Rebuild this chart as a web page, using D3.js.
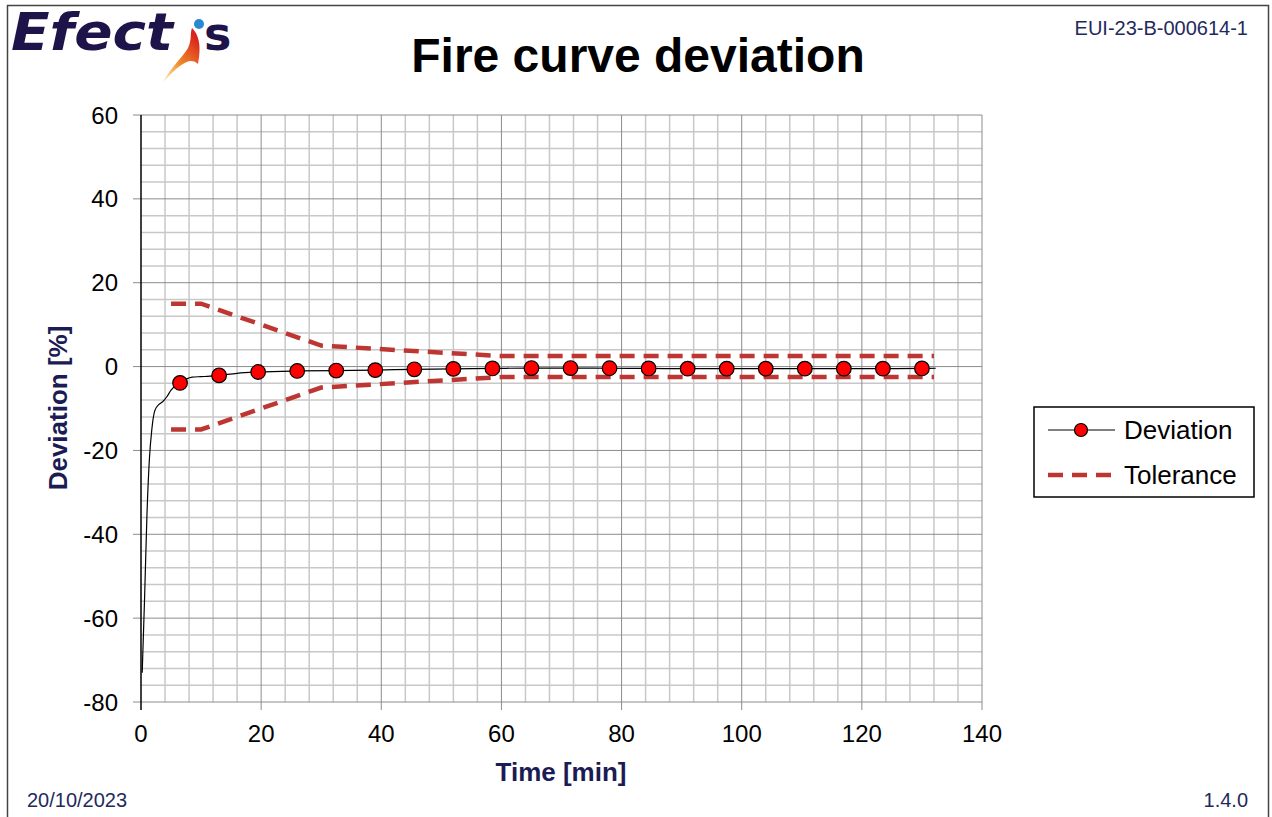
<!DOCTYPE html>
<html lang="en">
<head>
<meta charset="UTF-8">
<title>Fire curve deviation</title>
<style>
  body { margin: 0; background: #fff; }
  svg { display: block; font-family: "Liberation Sans", Arial, sans-serif; }
  .grid-minor line { stroke: #c8c8c8; stroke-width: 1.5px; }
  .grid-major line { stroke: #8c8c8c; stroke-width: 1px; }
  .tick-lbl { font-size: 24px; fill: #000; }
  .axis-title { font-size: 26px; font-weight: bold; fill: #1c1c54; }
  .meta { font-size: 20px; fill: #1f2a5c; }
</style>
</head>
<body>
<svg width="1272" height="817"></svg>
<script src="https://cdn.jsdelivr.net/npm/d3@7"></script>
<script>
// deviation curve [time min, deviation %]
var devTime = [0.2, 0.6, 1.0, 1.4, 1.8, 2.3, 3.0, 3.6, 4.3, 5.0, 5.8, 6.5, 7.5, 8.5, 10, 11.5, 13, 16, 19.5, 26, 32.5, 39, 45.5, 52, 58.5, 65, 71.5, 78, 84.5, 91, 97.5, 104, 110.5, 117, 123.5, 130, 132.3];
var devValue = [-73, -55, -35, -22, -15, -10.5, -9, -8.4, -7.2, -5.6, -4.5, -3.9, -3.0, -2.5, -2.4, -2.3, -2.1, -1.6, -1.3, -1.05, -0.95, -0.85, -0.65, -0.55, -0.45, -0.35, -0.35, -0.4, -0.45, -0.5, -0.5, -0.5, -0.5, -0.5, -0.5, -0.45, -0.4];
// marker times (every 6.5 min)
var markerTime = [6.5, 13, 19.5, 26, 32.5, 39, 45.5, 52, 58.5, 65, 71.5, 78, 84.5, 91, 97.5, 104, 110.5, 117, 123.5, 130];
// tolerance band breakpoints
var tolTime = [5, 10, 30, 60, 132];
var tolUpper = [15, 15, 5, 2.5, 2.5];
var tolLower = [-15, -15, -5, -2.5, -2.5];

var xTicks = [0, 20, 40, 60, 80, 100, 120, 140];
var yTicks = [-80, -60, -40, -20, 0, 20, 40, 60];

var svg = d3.select("svg");

// outer frame
svg.append("rect").attr("x", 7.5).attr("y", 5.5).attr("width", 1261).attr("height", 820)
  .attr("fill", "none").attr("stroke", "#444").attr("stroke-width", 1.5);

var x = d3.scaleLinear().domain([0, 140]).range([141, 982]);
var y = d3.scaleLinear().domain([-80, 60]).range([702, 115]);

// minor grid every 4
var g = svg.append("g");
g.append("g").attr("class", "grid-minor").selectAll("line")
  .data(d3.range(0, 141, 4).filter(function (d) { return d % 20 !== 0; }))
  .enter().append("line")
  .attr("x1", function (d) { return x(d); }).attr("x2", function (d) { return x(d); })
  .attr("y1", y(60)).attr("y2", y(-80));
g.append("g").attr("class", "grid-minor").selectAll("line")
  .data(d3.range(-80, 61, 4).filter(function (d) { return d % 20 !== 0; }))
  .enter().append("line")
  .attr("y1", function (d) { return y(d); }).attr("y2", function (d) { return y(d); })
  .attr("x1", x(0)).attr("x2", x(140));
// major grid
g.append("g").attr("class", "grid-major").selectAll("line")
  .data(xTicks.slice(1))
  .enter().append("line")
  .attr("x1", function (d) { return x(d); }).attr("x2", function (d) { return x(d); })
  .attr("y1", y(60)).attr("y2", y(-80) + 8);
g.append("g").attr("class", "grid-major").selectAll("line")
  .data(yTicks)
  .enter().append("line")
  .attr("y1", function (d) { return y(d); }).attr("y2", function (d) { return y(d); })
  .attr("x1", x(0) - 8).attr("x2", x(140));
// y axis line
g.append("line").attr("x1", x(0)).attr("x2", x(0)).attr("y1", y(60)).attr("y2", y(-80) + 8)
  .attr("stroke", "#000").attr("stroke-width", 1.5);

// tick labels
svg.append("g").selectAll("text").data(yTicks).enter().append("text")
  .attr("class", "tick-lbl").attr("x", 118).attr("y", function (d) { return y(d); })
  .attr("dy", "0.36em").attr("text-anchor", "end").text(function (d) { return d; });
svg.append("g").selectAll("text").data(xTicks).enter().append("text")
  .attr("class", "tick-lbl").attr("x", function (d) { return x(d); }).attr("y", 742)
  .attr("text-anchor", "middle").text(function (d) { return d; });

// axis titles
svg.append("text").attr("class", "axis-title").attr("x", 561).attr("y", 781)
  .attr("text-anchor", "middle").text("Time [min]");
svg.append("text").attr("class", "axis-title")
  .attr("transform", "translate(67,408) rotate(-90)")
  .attr("text-anchor", "middle").text("Deviation [%]");

// tolerance
var tolLine = d3.line().x(function (d) { return x(d[0]); }).y(function (d) { return y(d[1]); });
[tolUpper, tolLower].forEach(function (vals) {
  svg.append("path")
    .datum(tolTime.map(function (t, i) { return [t, vals[i]]; }))
    .attr("d", tolLine)
    .attr("fill", "none").attr("stroke", "#be3631").attr("stroke-width", 4.5)
    .attr("stroke-dasharray", "15,9");
});

// deviation line
var devLine = d3.line().curve(d3.curveMonotoneX)
  .x(function (d) { return x(d[0]); }).y(function (d) { return y(d[1]); });
svg.append("path")
  .datum(devTime.map(function (t, i) { return [t, devValue[i]]; }))
  .attr("d", devLine)
  .attr("fill", "none").attr("stroke", "#000").attr("stroke-width", 1.2);

// markers
var interp = d3.scaleLinear().domain(devTime).range(devValue);
svg.append("g").selectAll("circle").data(markerTime).enter().append("circle")
  .attr("cx", function (d) { return x(d); })
  .attr("cy", function (d) { return y(interp(d)); })
  .attr("r", 7.3).attr("fill", "#ff0000").attr("stroke", "#000").attr("stroke-width", 1.2);

// title
svg.append("text").attr("x", 638).attr("y", 72).attr("text-anchor", "middle")
  .attr("font-size", 48).attr("font-weight", "bold").attr("fill", "#000")
  .text("Fire curve deviation");

// meta texts
svg.append("text").attr("class", "meta").attr("x", 1248).attr("y", 35).attr("text-anchor", "end").text("EUI-23-B-000614-1");
svg.append("text").attr("class", "meta").attr("x", 27).attr("y", 807).text("20/10/2023");
svg.append("text").attr("class", "meta").attr("x", 1248).attr("y", 807).attr("text-anchor", "end").text("1.4.0");

// legend
var lg = svg.append("g").attr("transform", "translate(1034,407)");
lg.append("rect").attr("width", 220).attr("height", 90).attr("fill", "#fff")
  .attr("stroke", "#000").attr("stroke-width", 1.5);
lg.append("line").attr("x1", 14).attr("x2", 81).attr("y1", 23).attr("y2", 23)
  .attr("stroke", "#000").attr("stroke-width", 1);
lg.append("circle").attr("cx", 47).attr("cy", 23).attr("r", 6.5)
  .attr("fill", "#ff0000").attr("stroke", "#000").attr("stroke-width", 1.2);
lg.append("line").attr("x1", 14).attr("x2", 86).attr("y1", 68).attr("y2", 68)
  .attr("stroke", "#be3631").attr("stroke-width", 4.5).attr("stroke-dasharray", "15,9");
lg.append("text").attr("x", 90).attr("y", 23).attr("dy", "0.36em").attr("font-size", 26).text("Deviation");
lg.append("text").attr("x", 90).attr("y", 68).attr("dy", "0.36em").attr("font-size", 26).text("Tolerance");

// logo
var logo = svg.append("g");
var grad = svg.append("defs").append("linearGradient").attr("id", "flame")
  .attr("x1", "0").attr("y1", "1").attr("x2", "0.6").attr("y2", "0");
grad.append("stop").attr("offset", "0").attr("stop-color", "#f7b733").attr("stop-opacity", 0.3);
grad.append("stop").attr("offset", "0.45").attr("stop-color", "#f08a2a");
grad.append("stop").attr("offset", "1").attr("stop-color", "#d9251c");
logo.append("text").attr("x", 11).attr("y", 50).attr("font-size", 52).attr("font-weight", "bold")
  .attr("font-family", "DejaVu Sans").attr("font-style", "italic").attr("fill", "#1e1449")
  .attr("textLength", 162).attr("lengthAdjust", "spacingAndGlyphs").text("Efect");
logo.append("text").attr("x", 204).attr("y", 50).attr("font-size", 46).attr("font-weight", "bold")
  .attr("font-family", "DejaVu Sans").attr("fill", "#1e1449").text("s");
logo.append("path")
  .attr("d", "M163,82 C172,66 182,58 188,48 C192,40 190,32 192,28 C198,34 202,44 198,64 C190,56 180,64 163,82 Z")
  .attr("fill", "url(#flame)");
logo.append("circle").attr("cx", 199).attr("cy", 24).attr("r", 5).attr("fill", "#2a8ad0");
</script>
</body>
</html>
